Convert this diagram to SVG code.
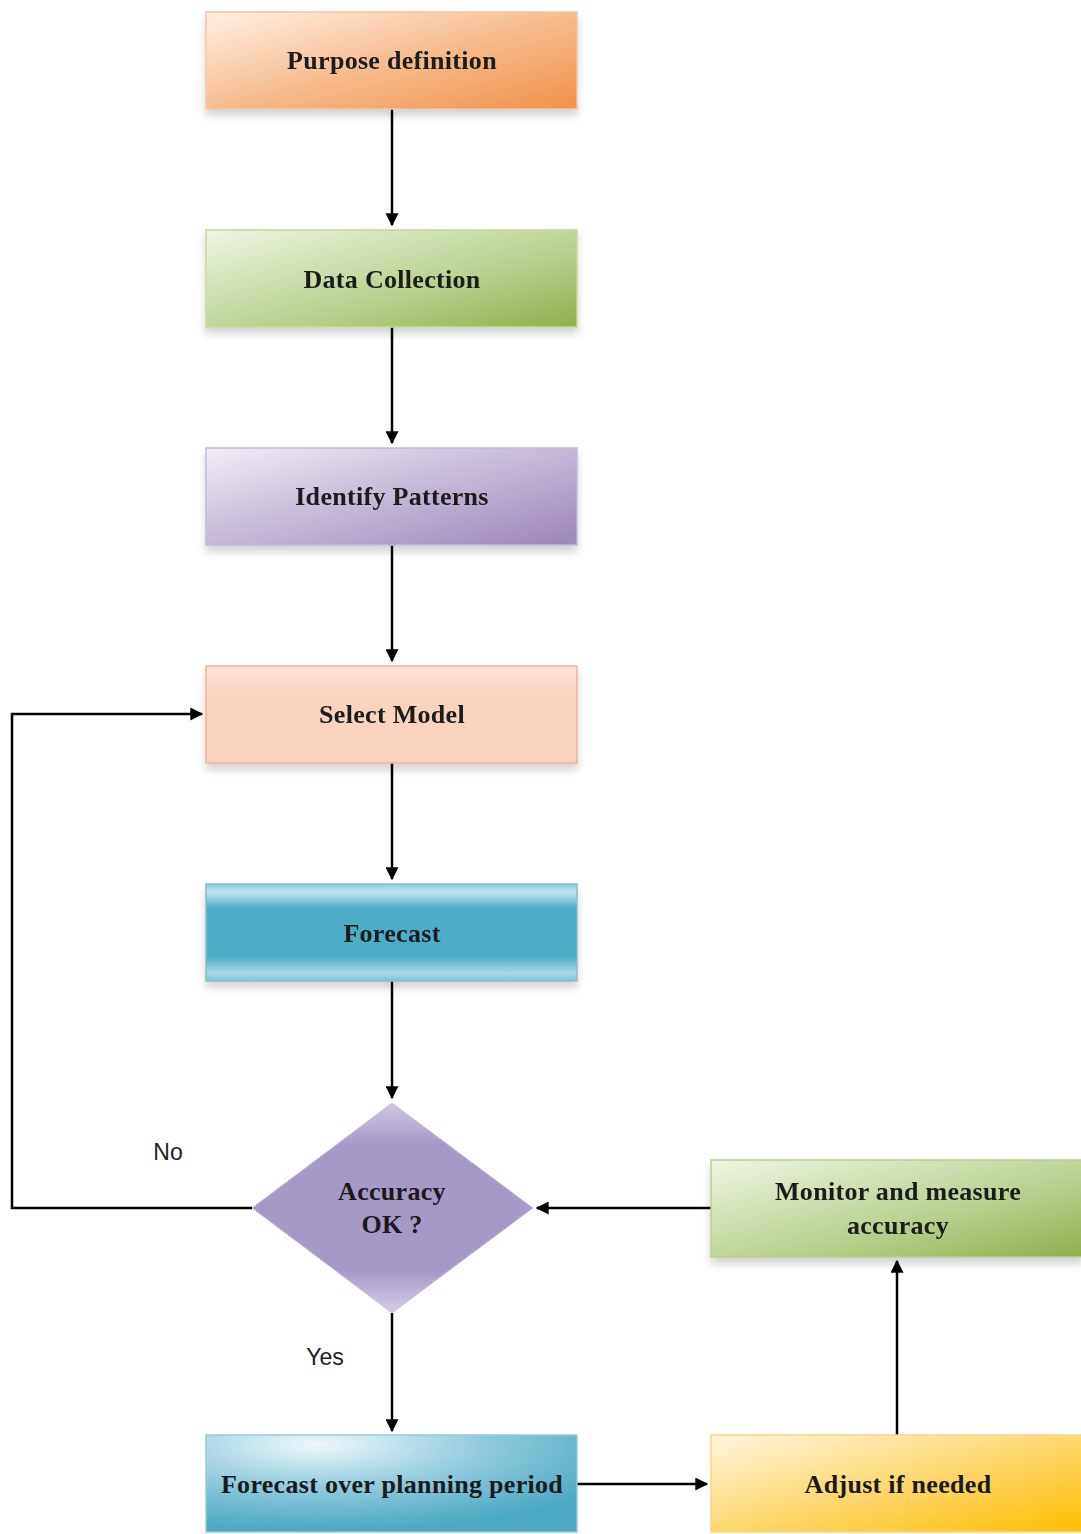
<svg xmlns="http://www.w3.org/2000/svg" width="1081" height="1534" viewBox="0 0 1081 1534">
  <style>
    .box { stroke-width: 1.5; }
    .lbl { font-family: "Liberation Serif", "Times New Roman", serif; font-weight: bold; font-size: 26px; letter-spacing: 0.3px; fill: #1a1a1a; text-anchor: middle; dominant-baseline: central; }
    .edge { fill: none; stroke: #000; stroke-width: 2.5; }
    .tag { font-family: "Liberation Sans", Arial, sans-serif; font-size: 23px; fill: #222; text-anchor: middle; dominant-baseline: central; }
  </style>
  <defs>
    <marker id="arrB" viewBox="0 0 10 10" refX="9" refY="5" markerWidth="14" markerHeight="13" markerUnits="userSpaceOnUse" orient="auto">
      <path d="M0,0 L10,5 L0,10 z" fill="#000"/>
    </marker>
    <filter id="sh" x="-10%" y="-10%" width="120%" height="140%">
      <feGaussianBlur in="SourceAlpha" stdDeviation="4"/>
      <feOffset dx="0" dy="6"/>
      <feComponentTransfer><feFuncA type="linear" slope="0.18"/></feComponentTransfer>
      <feMerge><feMergeNode/><feMergeNode in="SourceGraphic"/></feMerge>
    </filter>
    <linearGradient id="gOrange" x1="0" y1="0" x2="1" y2="1">
      <stop offset="0" stop-color="#fdf0e6"/>
      <stop offset="0.55" stop-color="#f7b886"/>
      <stop offset="1" stop-color="#f0914a"/>
    </linearGradient>
    <linearGradient id="gGreen" x1="0" y1="0" x2="1" y2="1">
      <stop offset="0" stop-color="#eef4e3"/>
      <stop offset="0.55" stop-color="#bcd494"/>
      <stop offset="1" stop-color="#8fb04e"/>
    </linearGradient>
    <linearGradient id="gPurple" x1="0" y1="0" x2="1" y2="1">
      <stop offset="0" stop-color="#f0edf5"/>
      <stop offset="0.55" stop-color="#c0b3d3"/>
      <stop offset="1" stop-color="#9c87b8"/>
    </linearGradient>
    <linearGradient id="gPeach" x1="0" y1="0" x2="0" y2="1">
      <stop offset="0" stop-color="#fbe2d6"/>
      <stop offset="0.3" stop-color="#f9d4c1"/>
      <stop offset="1" stop-color="#f9d2bf"/>
    </linearGradient>
    <linearGradient id="gTeal" x1="0" y1="0" x2="0" y2="1">
      <stop offset="0" stop-color="#8ccbdc"/>
      <stop offset="0.08" stop-color="#c4e4ee"/>
      <stop offset="0.25" stop-color="#4dadc7"/>
      <stop offset="0.75" stop-color="#4dadc7"/>
      <stop offset="0.92" stop-color="#a9d8e6"/>
      <stop offset="1" stop-color="#7cc3d6"/>
    </linearGradient>
    <radialGradient id="gTealR" cx="0.3" cy="0.1" r="0.9">
      <stop offset="0" stop-color="#eef7fa"/>
      <stop offset="0.5" stop-color="#8fcbdc"/>
      <stop offset="1" stop-color="#4aa8c2"/>
    </radialGradient>
    <linearGradient id="gYellow" x1="0" y1="0" x2="1" y2="1">
      <stop offset="0" stop-color="#fff6dd"/>
      <stop offset="0.55" stop-color="#ffd466"/>
      <stop offset="1" stop-color="#ffbf00"/>
    </linearGradient>
    <linearGradient id="gDiamond" x1="0" y1="0" x2="0" y2="1">
      <stop offset="0" stop-color="#cfc6e0"/>
      <stop offset="0.2" stop-color="#a699c6"/>
      <stop offset="0.8" stop-color="#a699c6"/>
      <stop offset="1" stop-color="#d6cfe6"/>
    </linearGradient>
  </defs>

  <!-- connectors -->
  <g id="connectors">
    <path class="edge" d="M392,109 V225" marker-end="url(#arrB)"/>
    <path class="edge" d="M392,327 V443" marker-end="url(#arrB)"/>
    <path class="edge" d="M392,545 V661" marker-end="url(#arrB)"/>
    <path class="edge" d="M392,763 V879" marker-end="url(#arrB)"/>
    <path class="edge" d="M392,981 V1098" marker-end="url(#arrB)"/>
    <path class="edge" d="M252,1208 H12 V714 H202" marker-end="url(#arrB)"/>
    <path class="edge" d="M392,1313 V1431" marker-end="url(#arrB)"/>
    <path class="edge" d="M711,1208 H537" marker-end="url(#arrB)"/>
    <path class="edge" d="M897,1435 V1261" marker-end="url(#arrB)"/>
    <path class="edge" d="M577,1484 H707" marker-end="url(#arrB)"/>
    <text class="tag" x="168" y="1152">No</text>
    <text class="tag" x="325" y="1357">Yes</text>
  </g>

  <g id="purpose" filter="url(#sh)">
    <rect class="box" x="206" y="12" width="371" height="97" fill="url(#gOrange)" stroke="#f2c6a4"/>
    <text class="lbl" x="392" y="60">Purpose definition</text>
  </g>
  <g id="data-collection" filter="url(#sh)">
    <rect class="box" x="206" y="230" width="371" height="97" fill="url(#gGreen)" stroke="#c4d8a0"/>
    <text class="lbl" x="392" y="279">Data Collection</text>
  </g>
  <g id="identify-patterns" filter="url(#sh)">
    <rect class="box" x="206" y="448" width="371" height="97" fill="url(#gPurple)" stroke="#c3b8d6"/>
    <text class="lbl" x="392" y="496">Identify Patterns</text>
  </g>
  <g id="select-model" filter="url(#sh)">
    <rect class="box" x="206" y="666" width="371" height="97" fill="url(#gPeach)" stroke="#eab59b"/>
    <text class="lbl" x="392" y="714">Select Model</text>
  </g>
  <g id="forecast" filter="url(#sh)">
    <rect class="box" x="206" y="884" width="371" height="97" fill="url(#gTeal)" stroke="#8fb8c4"/>
    <text class="lbl" x="392" y="933">Forecast</text>
  </g>
  <g id="accuracy-check">
    <polygon points="392,1103 533,1208 392,1313 252,1208" fill="url(#gDiamond)" stroke="#c9c0dc" stroke-width="1"/>
    <text class="lbl" x="392" y="1191">Accuracy</text>
    <text class="lbl" x="392" y="1224">OK ?</text>
  </g>
  <g id="monitor" filter="url(#sh)">
    <rect class="box" x="711" y="1160" width="372" height="97" fill="url(#gGreen)" stroke="#b8cf92"/>
    <text class="lbl" x="898" y="1191">Monitor and measure</text>
    <text class="lbl" x="898" y="1225">accuracy</text>
  </g>
  <g id="forecast-planning">
    <rect class="box" x="206" y="1435" width="371" height="97" fill="url(#gTealR)" stroke="#9cc9d6"/>
    <text class="lbl" x="392" y="1484">Forecast over planning period</text>
  </g>
  <g id="adjust">
    <rect class="box" x="711" y="1435" width="372" height="97" fill="url(#gYellow)" stroke="#f5d58a"/>
    <text class="lbl" x="898" y="1484">Adjust if needed</text>
  </g>
</svg>
